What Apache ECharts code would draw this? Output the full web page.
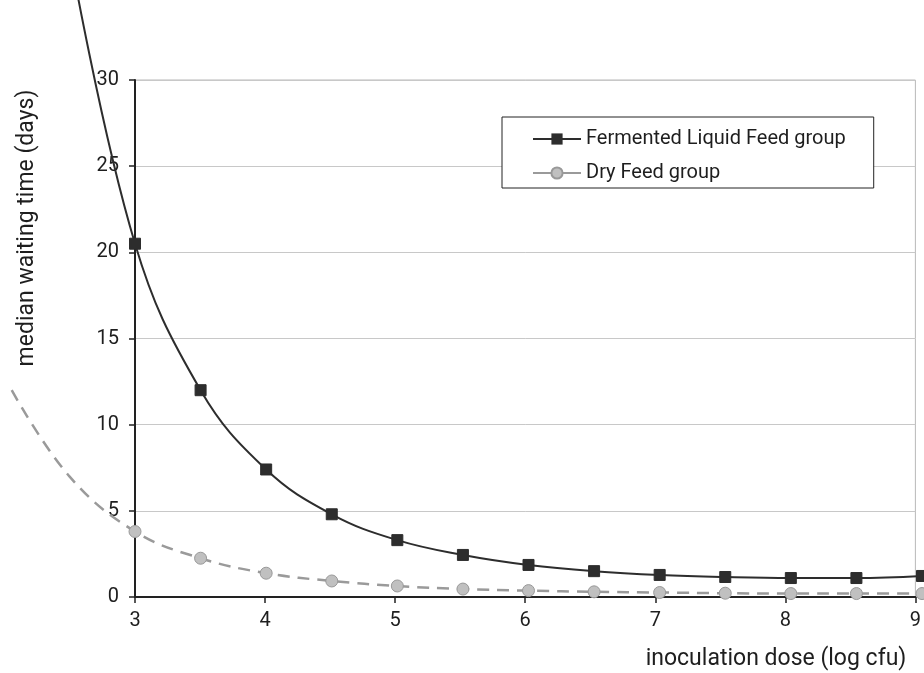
<!DOCTYPE html>
<html>
<head>
<meta charset="utf-8">
<script src="https://cdn.jsdelivr.net/npm/echarts@6/dist/echarts.min.js"></script>
<style>html,body{margin:0;padding:0;background:#fff;}#c{width:924px;height:673px;}</style>
</head>
<body>
<div id="c"></div>
<script>
var doses = [3, 3.5, 4, 4.5, 5, 5.5, 6, 6.5, 7, 7.5, 8, 8.5, 9];
var fermentedLiquid = [20.5, 12.0, 7.4, 4.8, 3.3, 2.44, 1.86, 1.5, 1.28, 1.16, 1.1, 1.1, 1.22];
var dryFeed = [3.8, 2.25, 1.38, 0.93, 0.64, 0.46, 0.37, 0.3, 0.26, 0.22, 0.2, 0.2, 0.2];
// curve continuation drawn outside the plotted axis range (no markers)
var fermentedExtX = [2.5];
var fermentedExtY = [37.5];
var dryExtX = [2.06, 2.5];
var dryExtY = [12.0, 7.0];
var yTicks = [0, 5, 10, 15, 20, 25, 30];
var xTicks = [3, 4, 5, 6, 7, 8, 9];

function build(extX, extY, xs, ys) {
  var d = [];
  for (var i = 0; i < extX.length; i++) d.push({value: [extX[i], extY[i]], symbol: 'none'});
  for (var j = 0; j < xs.length; j++) d.push([xs[j], ys[j]]);
  return d;
}

// layout
var W = 924, H = 673;
var GL = 135, GR = 2, GT = 80, GB = 76;
var xMin = xTicks[0], xMax = xTicks[xTicks.length - 1];
var yMin = yTicks[0], yMax = yTicks[yTicks.length - 1];
var pxPerX = (W - GL - GR) / (xMax - xMin);
var pxPerY = (H - GT - GB) / (yMax - yMin);
// an overlay grid covering the canvas, sharing the same scale, so curves can run past the frame
var xMinWide = xMin - GL / pxPerX;
var yMaxWide = yMax + GT / pxPerY;

var FONT = 'Roboto';
var TXT = '#1e1e1e';
var chart = echarts.init(document.getElementById('c'));
chart.setOption({
  animation: false,
  backgroundColor: '#fff',
  textStyle: {fontFamily: FONT, color: TXT},
  grid: [
    {left: GL, right: GR, top: GT, bottom: GB, show: true, borderColor: '#b8b8b8', borderWidth: 1},
    {left: 0, right: GR, top: 0, bottom: GB, show: false}
  ],
  xAxis: [{
    gridIndex: 0, type: 'value', min: xMin, max: xMax, interval: 1,
    axisLine: {onZero: false, lineStyle: {color: '#222', width: 2}},
    axisTick: {show: true, inside: false, length: 6, lineStyle: {color: '#222', width: 1.5}},
    axisLabel: {fontFamily: FONT, fontSize: 20, color: TXT, margin: 14},
    splitLine: {show: false}
  }, {
    gridIndex: 1, type: 'value', min: xMinWide, max: xMax, show: false,
    splitLine: {show: false}
  }],
  yAxis: [{
    gridIndex: 0, type: 'value', min: yMin, max: yMax, interval: 5,
    axisLine: {show: true, lineStyle: {color: '#222', width: 2}},
    axisTick: {show: true, inside: false, length: 6, lineStyle: {color: '#222', width: 1.5}},
    axisLabel: {fontFamily: FONT, fontSize: 20, color: TXT, margin: 16},
    splitLine: {show: true, lineStyle: {color: '#c8c8c8', width: 1}}
  }, {
    gridIndex: 1, type: 'value', min: yMin, max: yMaxWide, show: false,
    splitLine: {show: false}
  }],
  legend: {
    orient: 'vertical', left: 502, top: 117,
    padding: [12, 28, 5, 30],
    itemWidth: 48, itemHeight: 14, itemGap: 14,
    backgroundColor: '#fff', borderColor: '#222', borderWidth: 1, borderRadius: 0,
    textStyle: {fontFamily: FONT, fontSize: 20, lineHeight: 20, color: TXT},
    data: [
      {name: 'Fermented Liquid Feed group'},
      {name: 'Dry Feed group', lineStyle: {type: 'solid'}}
    ]
  },
  graphic: [
    {type: 'text', x: 27, y: 228, rotation: Math.PI / 2, z: 10,
     style: {text: 'median waiting time (days)', font: '23px Roboto', fill: TXT, align: 'center', verticalAlign: 'middle'}},
    {type: 'text', x: 776, y: 659, z: 10,
     style: {text: 'inoculation dose (log cfu)', font: '23px Roboto', fill: TXT, align: 'center', verticalAlign: 'middle'}}
  ],
  series: [
    {
      name: 'Fermented Liquid Feed group', type: 'line', xAxisIndex: 1, yAxisIndex: 1,
      smooth: 0.4,
      symbol: 'rect', symbolSize: 11,
      lineStyle: {color: '#2d2d2d', width: 2},
      itemStyle: {color: '#2d2d2d', borderColor: '#2d2d2d'},
      data: build(fermentedExtX, fermentedExtY, doses, fermentedLiquid), z: 3
    },
    {
      name: 'Dry Feed group', type: 'line', xAxisIndex: 1, yAxisIndex: 1,
      smooth: 0.4,
      symbol: 'circle', symbolSize: 12,
      lineStyle: {color: '#9a9a9a', width: 2.5, type: [12, 8]},
      itemStyle: {color: '#c0c0c0', borderColor: '#999', borderWidth: 1},
      data: build(dryExtX, dryExtY, doses, dryFeed), z: 2
    }
  ]
});
</script>
</body>
</html>
